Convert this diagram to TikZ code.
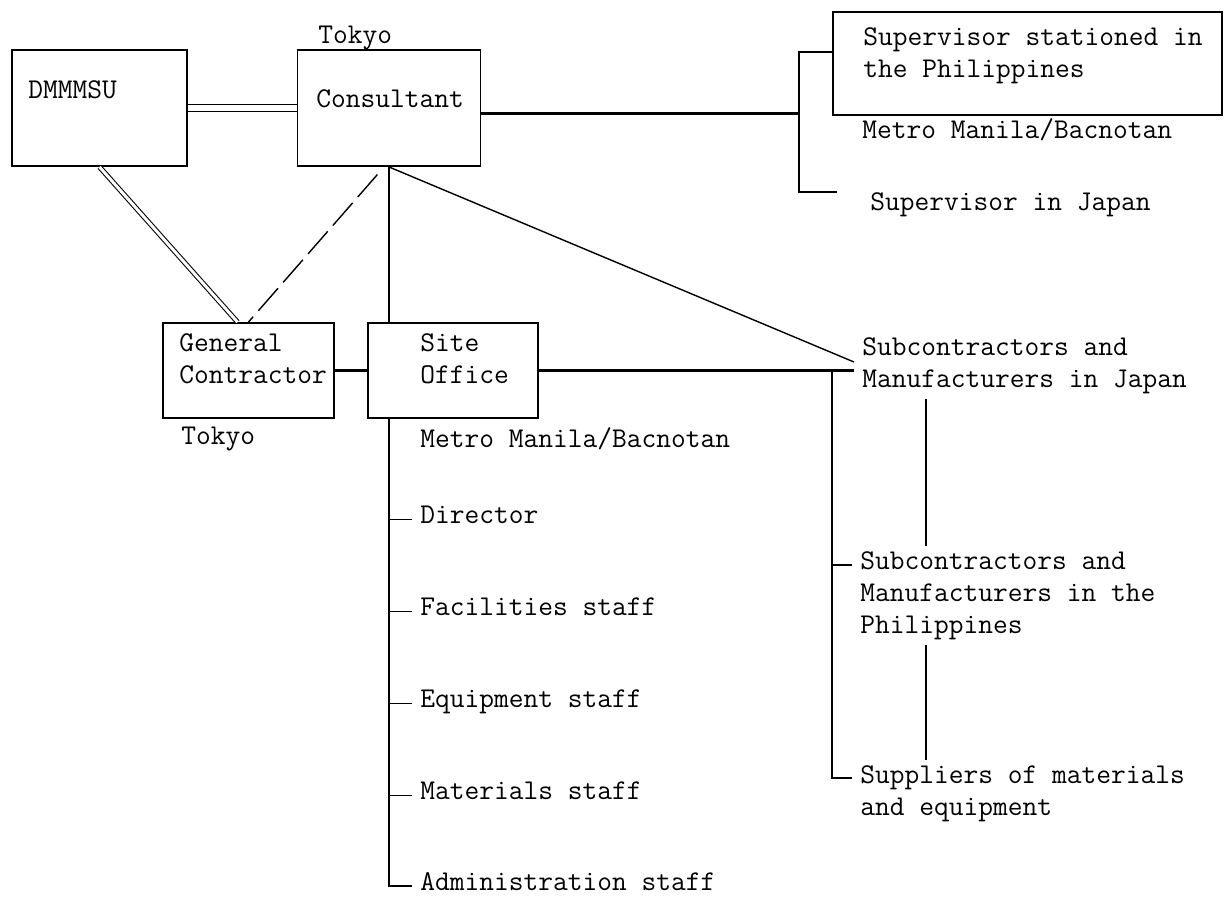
\documentclass[tikz,border=0pt]{standalone}
\usetikzlibrary{positioning, calc}

\begin{document}
\begin{tikzpicture}[x=0.02cm, y=-0.02cm,
  lbl/.style={font=\fontsize{16.3}{18.1}\selectfont\ttfamily, anchor=base west, align=left, inner xsep=0.16cm, inner ysep=0.1cm},
  item/.style={lbl, text height=0.62em, text depth=0.2em},
  box/.style={draw, line width=1.1pt, inner sep=0pt},
  link/.style={draw=black, line width=0.8pt},
  mainlink/.style={draw=black, line width=1.7pt},
  dbl/.style={draw=black, double, line width=0.6pt, double distance=#1}]
  \useasboundingbox (0,0) rectangle (1224,897);
  \node[box, minimum width=3.5cm, minimum height=2.32cm] (dmm) at (99.5,108) {};
  \node[box, minimum width=3.66cm, minimum height=2.32cm] (cons) at (389,108) {};
  \node[box, minimum width=7.78cm, minimum height=2.06cm] (sup) at (1027.5,63.5) {};
  \node[box, minimum width=3.42cm, minimum height=1.9cm] (gc) at (248.5,370.5) {};
  \node[box, minimum width=3.4cm, minimum height=1.9cm] (site) at (453,370.5) {};
  \node[lbl] (dmmlbl) at (20,98) {DMMMSU};
  \node[lbl] (constok) at (310,43) {Tokyo};
  \node[lbl] (conslbl) at (308,107) {Consultant};
  \node[lbl] (suplbl) at (855,77) {Supervisor stationed in\\the Philippines};
  \node[lbl] (supmm) at (854,138) {Metro Manila/Bacnotan};
  \node[lbl] (supjp) at (862,210) {Supervisor in Japan};
  \node[lbl] (gclbl) at (171,383) {General\\Contractor};
  \node[lbl] (gctok) at (173,444) {Tokyo};
  \node[lbl] (sitelbl) at (412,383) {Site\\Office};
  \node[lbl] (sitemm) at (412,447) {Metro Manila/Bacnotan};
  \node[item] (dir) at (412,523) {Director};
  \node[item] (fac) at (412,615) {Facilities staff};
  \node[item] (equ) at (412,707) {Equipment staff};
  \node[item] (mat) at (412,799) {Materials staff};
  \node[item] (adm) at (412,890) {Administration staff};
  \node[lbl] (sj) at (854,387) {Subcontractors and\\Manufacturers in Japan};
  \node[lbl] (sp) at (852,633) {Subcontractors and\\Manufacturers in the\\Philippines};
  \node[lbl] (spl) at (852,815) {Suppliers of materials\\and equipment};
  \coordinate (sbrk) at (799,52);
  \coordinate (jpend) at (837,192);
  \coordinate (sbar) at (832,370);
  \coordinate (vx) at (926,0);
  \coordinate (sptap) at ([yshift=1.36cm]sp.base west);
  \coordinate (spltap) at ([yshift=0.74cm]spl.base west);
  \draw[dbl=3.9pt] (dmm) -- (cons);
  \draw[dbl=1.7pt] (dmm.south) -- ([xshift=-0.22cm]gc.north);
  \draw[link, dash pattern=on 17pt off 4.5pt, shorten <=0.2cm] ([xshift=-0.1cm]cons.south) -- (gc.north);
  \draw[mainlink] (gc) -- (site);
  \draw[link] (cons.south) -- (cons.south |- site.north);
  \draw[link] (cons.south) -- ([yshift=0.5cm]sj.base west);
  \draw[mainlink] ([yshift=-0.1cm]cons.east) -- ([yshift=-0.1cm]cons.east -| sbrk);
  \draw[link, line width=1.1pt] (sup.west |- sbrk) -- (sbrk) |- (jpend);
  \draw[mainlink] (site.east) -- (site.east -| sj.base west);
  % supervisor-side trunk feeds the two local lists
  \draw[link, line width=1.1pt] (sbar) |- (spltap);
  \draw[link] (sbar |- sptap) -- (sptap);
  \draw[link, line width=1.1pt] (sj.south -| vx) -- (sp.north -| vx);
  \draw[link, line width=1.1pt] (sp.south -| vx) -- (spl.north -| vx);
  \draw[link, line width=1.1pt] (cons.south |- site.south) |- (adm.west);
  \draw[link] (cons.south |- dir.west) -- (dir.west);
  \draw[link] (cons.south |- fac.west) -- (fac.west);
  \draw[link] (cons.south |- equ.west) -- (equ.west);
  \draw[link] (cons.south |- mat.west) -- (mat.west);
\end{tikzpicture}
\end{document}
